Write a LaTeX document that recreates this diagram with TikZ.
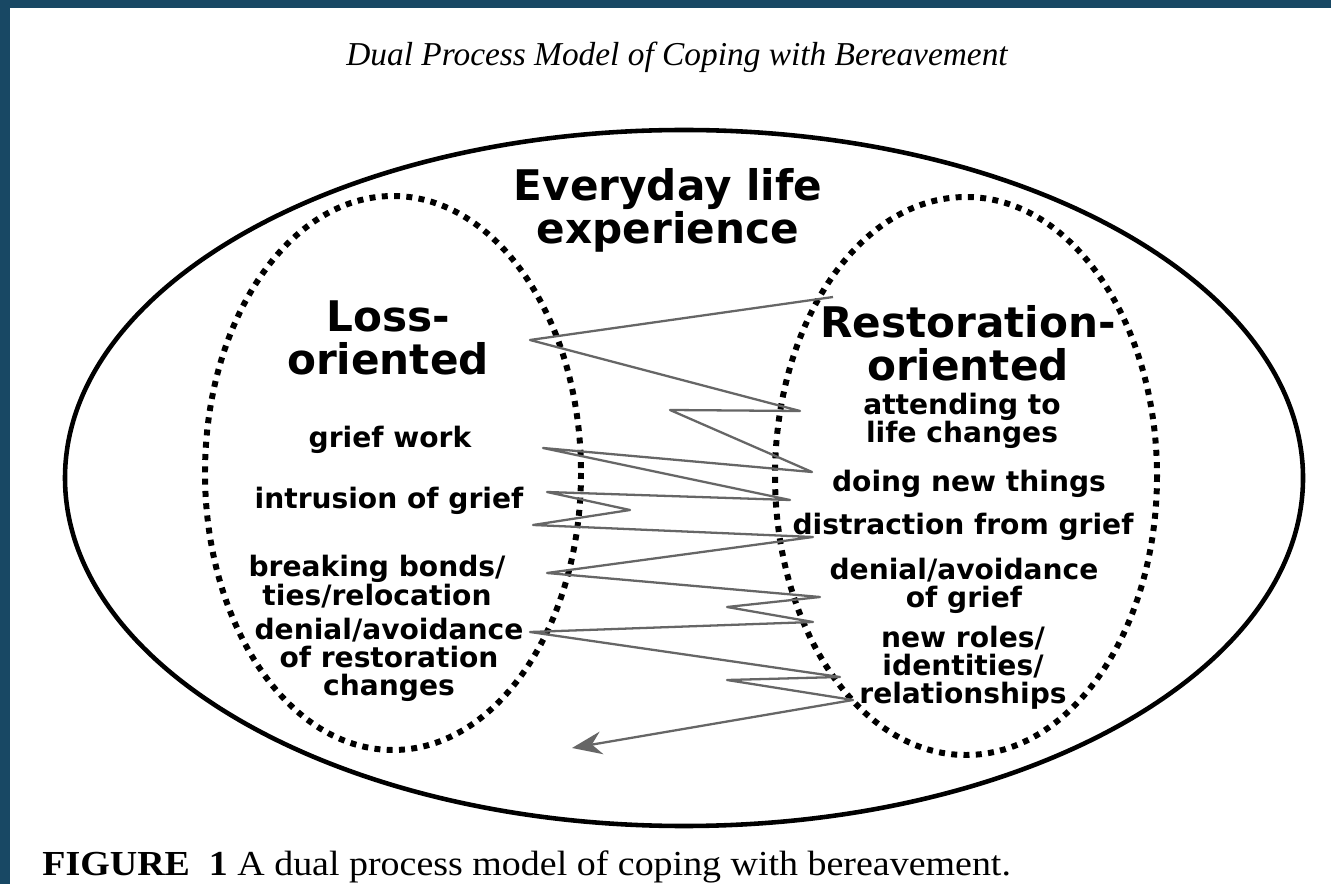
\documentclass[tikz,border=0pt]{standalone}
\usepackage{fontspec}
\setmainfont{Liberation Serif}
\setsansfont{DejaVu Sans}
\usepackage{xcolor}
\usetikzlibrary{arrows.meta}
\definecolor{framecolor}{RGB}{24, 72, 100}
\colorlet{pencilcolor}{black!60}

\tikzset{
  heading/.style={font=\sffamily\bfseries\fontsize{24}{24.5}\selectfont, align=center},
  item/.style={font=\sffamily\bfseries\fontsize{16}{15.9}\selectfont, align=center},
  dotring/.style={line width=3.4pt, dash pattern=on 3.4pt off 3.6pt},
}

\begin{document}
\begin{tikzpicture}[x=0.02cm, y=-0.02cm]
        \useasboundingbox (0, 0) rectangle (1331, 884);

        % Page and frame
        \fill[white] (0, 0) rectangle (1331, 884);
        \fill[framecolor] (0, 0) rectangle (1331, 8);
        \fill[framecolor] (0, 0) rectangle (10, 884);

        \node (title) at (677, 57) {\itshape\fontsize{19}{22}\selectfont Dual Process Model of Coping with Bereavement};

        % Everyday life ring and the two orientations
        \draw[line width=2.6pt] (684, 478) ellipse (619 and 348);
        \draw[dotring] (393, 473) ellipse (188 and 277);
        \draw[dotring] (966, 476) ellipse (191 and 279);

        \node[heading] (everyday) at (668, 210) {Everyday life\\experience};
        \node[heading] (loss) at (388, 338) {Loss-\\oriented};
        \node[heading] (resto) at (968, 343) {Restoration-\\oriented};

        % Loss side
        \node[item] (lgrief) at (390, 440) {grief work};
        \node[item] (lintrusion) at (389, 501) {intrusion of grief};
        \node[item, font=\sffamily\bfseries\fontsize{16}{13.6}\selectfont] (lbonds) at (377, 582) {breaking bonds/\\ties/relocation};
        \node[item] (ldenial) at (389, 660) {denial/avoidance\\of restoration\\changes};

        % Restoration side
        \node[item] (rattend) at (962, 421) {attending to\\life changes};
        \node[item] (rdoing) at (969, 484) {doing new things};
        \node[item] (rdistract) at (963, 527) {distraction from grief};
        \node[item] (rdenial) at (964, 586) {denial/avoidance\\of grief};
        \node[item] (rroles) at (963, 668) {new roles/\\identities/\\relationships};

        % Oscillation, drawn freehand
        \coordinate (oscstart) at (833, 297);
        \coordinate (oscend) at (572, 748);
        \draw[pencilcolor, line width=1.3pt, line join=round, -{Stealth[length=17pt, width=13pt]}]
                (oscstart) -- (530, 340) -- (800, 411) -- (670, 410) -- (812, 472)
                -- (543, 448) -- (790, 500) -- (547, 492) -- (630, 510) -- (533, 525)
                -- (813, 537) -- (547, 573) -- (820, 597) -- (727, 607) -- (813, 622)
                -- (530, 632) -- (840, 677) -- (727, 680) -- (853, 700) -- (oscend);

        \node[anchor=base west, inner sep=0pt, xscale=1.08, transform shape] (caption) at (42, 875)
                {\fontsize{20}{22}\selectfont\textbf{FIGURE\ \ 1} A dual process model of coping with bereavement.};
\end{tikzpicture}
\end{document}
